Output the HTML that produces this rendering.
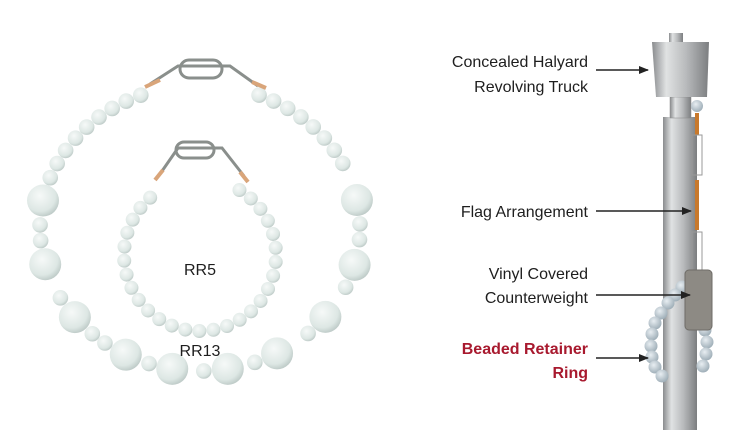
<!DOCTYPE html>
<html><head><meta charset="utf-8"><style>
html,body{margin:0;padding:0;background:#fff;width:746px;height:430px;overflow:hidden}
svg{display:block}
text{font-family:"Liberation Sans",sans-serif;font-size:16px;fill:#1e1e1e}
</style></head><body>
<svg id="s" width="746" height="430" viewBox="0 0 746 430" xmlns="http://www.w3.org/2000/svg">
<defs>
<radialGradient id="bead" cx="0.4" cy="0.35" r="0.7">
<stop offset="0" stop-color="#f6f9f8"/><stop offset="0.7" stop-color="#dde7e4"/><stop offset="1" stop-color="#b9c6c3"/>
</radialGradient>
<radialGradient id="bb" cx="0.4" cy="0.35" r="0.7">
<stop offset="0" stop-color="#e8eef2"/><stop offset="1" stop-color="#9aaab4"/>
</radialGradient>
<linearGradient id="pole" x1="0" x2="1">
<stop offset="0" stop-color="#8a8c8e"/><stop offset="0.25" stop-color="#e0e2e3"/><stop offset="0.6" stop-color="#b8babc"/><stop offset="1" stop-color="#7c7e80"/>
</linearGradient>
<marker id="ar" markerWidth="10" markerHeight="8" refX="9" refY="4" orient="auto" markerUnits="userSpaceOnUse">
<path d="M0,0 L10,4 L0,8 Z" fill="#222"/></marker>
</defs>
<g id="beads"></g>
<g fill="none" stroke="#8a8f8c" stroke-width="3">
<path d="M150,84 L178,66 L230,66 L258,86"/>
<rect x="180" y="60" width="42" height="18" rx="9"/>
<path d="M160,174 L178,148 L222,148 L244,176"/>
<rect x="176" y="142" width="38" height="16" rx="8"/>
</g>
<g stroke="#d9a57a" stroke-width="4">
<line x1="145" y1="87" x2="160" y2="80"/><line x1="252" y1="82" x2="266" y2="88"/>
<line x1="155" y1="180" x2="163" y2="170"/><line x1="240" y1="172" x2="248" y2="182"/>
</g>
<text x="200" y="275" text-anchor="middle" font-size="15">RR5</text>
<text x="200" y="356" text-anchor="middle" font-size="15">RR13</text>
<rect x="663" y="117" width="34" height="313" fill="url(#pole)"/>
<rect x="670" y="97" width="21" height="21" fill="url(#pole)" stroke="#888" stroke-width="0.5"/>
<rect x="669" y="33" width="14" height="10" fill="url(#pole)"/>
<path d="M652,42 L709,42 L707,97 L656,97 Z" fill="url(#pole)"/>
<g id="chain"></g>
<rect x="685" y="270" width="27" height="60" rx="4" fill="#8d8a84" stroke="#6f6c67"/>
<text x="588" y="67" text-anchor="end">Concealed Halyard</text>
<text x="588" y="92" text-anchor="end">Revolving Truck</text>
<text x="588" y="217" text-anchor="end">Flag Arrangement</text>
<text x="588" y="279" text-anchor="end">Vinyl Covered</text>
<text x="588" y="303" text-anchor="end">Counterweight</text>
<text x="588" y="354" text-anchor="end" style="fill:#a8192e;font-weight:bold">Beaded Retainer</text>
<text x="588" y="378" text-anchor="end" style="fill:#a8192e;font-weight:bold">Ring</text>
<g stroke="#222" stroke-width="1.5" marker-end="url(#ar)">
<line x1="596" y1="70" x2="648" y2="70"/>
<line x1="596" y1="211" x2="691" y2="211"/>
<line x1="596" y1="295" x2="690" y2="295"/>
<line x1="596" y1="358" x2="648" y2="358"/>
</g>
</svg>
<script>
var NS="http://www.w3.org/2000/svg",g=document.getElementById('beads');
function c(x,y,r,f,p){var e=document.createElementNS(NS,'circle');e.setAttribute('cx',x);e.setAttribute('cy',y);e.setAttribute('r',r);e.setAttribute('fill',f||'url(#bead)');(p||g).appendChild(e);}
function ring(cx,cy,rx,ry,rad,skipFn,bigPts,R){
  var bigs=bigPts.map(function(b){var t=Math.atan2((b[0]-cx)/rx,-(b[1]-cy)/ry);if(t<0)t+=2*Math.PI;return {t:t,x:cx+rx*Math.sin(t),y:cy-ry*Math.cos(t),r:R};}).sort(function(a,b){return a.t-b.t});
  var placed=[],last=null,bi=0;
  for(var t=0;t<=2*Math.PI;t+=0.002){
    if(bi<bigs.length&&t>=bigs[bi].t){last=bigs[bi];placed.push(last);bi++;continue;}
    var x=cx+rx*Math.sin(t),y=cy-ry*Math.cos(t);
    if(skipFn(x,y)){last=null;continue;}
    if(last&&Math.hypot(x-last.x,y-last.y)<last.r+rad)continue;
    var nb=bigs[bi];
    if(nb&&Math.hypot(x-nb.x,y-nb.y)<nb.r+rad)continue;
    last={x:x,y:y,r:rad};placed.push(last);
  }
  placed.forEach(function(p){c(p.x,p.y,p.r);});
}
var big=[[40,200],[42,265],[75,317],[125,356],[172,370],[228,370],[275,350],[327,318],[355,265],[357,200]];
ring(200,228,160,143,7.8,function(x,y){return y<95&&Math.abs(x-205)<60;},big,16);
ring(200,255,76,76,7,function(x,y){return y<190&&Math.abs(x-200)<44;},[],0);
var ch=document.getElementById('chain');
c(697,106,6,'url(#bb)',ch);
var r=function(x,y,w,h,f,s){var e=document.createElementNS(NS,'rect');e.setAttribute('x',x);e.setAttribute('y',y);e.setAttribute('width',w);e.setAttribute('height',h);e.setAttribute('fill',f);if(s)e.setAttribute('stroke',s);ch.appendChild(e);};
r(695,113,4,22,'#c8792c');r(692,135,10,40,'none','#999');r(695,180,4,50,'#c8792c');r(692,232,10,38,'none','#999');
c(715,185,6,'none',ch);
var pts=[[682,287],[675,295],[668,303],[661,313],[655,323],[652,334],[651,346],[652,357],[655,367],[662,376],[703,318],[705,330],[707,342],[706,354],[703,366]];
pts.forEach(function(p){c(p[0],p[1],6.5,'url(#bb)',ch);});
</script>
</body></html>
